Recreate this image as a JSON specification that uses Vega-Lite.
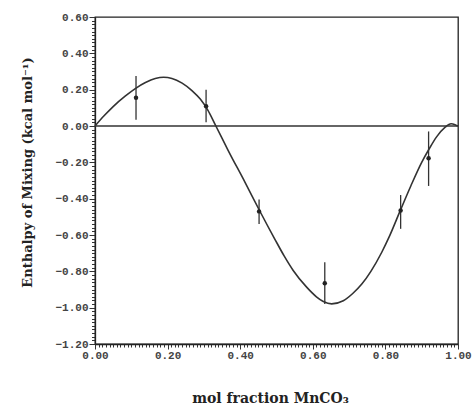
{
  "$schema": "https://vega.github.io/schema/vega-lite/v6.json",
  "width": 363,
  "height": 327,
  "autosize": {"type": "none"},
  "padding": {"left": 95, "top": 17, "right": 15, "bottom": 63},
  "background": "white",
  "config": {
    "view": {"stroke": "#222", "strokeWidth": 1.3},
    "axis": {
      "grid": false,
      "domainColor": "#222",
      "domainWidth": 1.3,
      "tickColor": "#333",
      "tickWidth": 1,
      "labelFont": "Liberation Mono",
      "labelFontWeight": "bold",
      "labelFontSize": 11,
      "labelColor": "#444",
      "labelOverlap": false,
      "labelFlush": false,
      "titleFont": "DejaVu Serif",
      "titleFontWeight": "bold",
      "titleColor": "#222"
    }
  },
  "datasets": {
    "curve": [
      {"x": 0.0, "y": 0.0},
      {"x": 0.025, "y": 0.056},
      {"x": 0.05, "y": 0.107},
      {"x": 0.083, "y": 0.164},
      {"x": 0.111, "y": 0.206},
      {"x": 0.139, "y": 0.239},
      {"x": 0.166, "y": 0.261},
      {"x": 0.189, "y": 0.268},
      {"x": 0.212, "y": 0.262},
      {"x": 0.24, "y": 0.236},
      {"x": 0.267, "y": 0.195},
      {"x": 0.29, "y": 0.148},
      {"x": 0.31, "y": 0.09},
      {"x": 0.333, "y": 0.0},
      {"x": 0.367, "y": -0.135},
      {"x": 0.413, "y": -0.309},
      {"x": 0.455, "y": -0.472},
      {"x": 0.496, "y": -0.625},
      {"x": 0.521, "y": -0.715},
      {"x": 0.546, "y": -0.795},
      {"x": 0.583, "y": -0.887},
      {"x": 0.61, "y": -0.94},
      {"x": 0.629, "y": -0.966},
      {"x": 0.652, "y": -0.979},
      {"x": 0.684, "y": -0.962},
      {"x": 0.71, "y": -0.922},
      {"x": 0.735, "y": -0.87},
      {"x": 0.76, "y": -0.8},
      {"x": 0.79, "y": -0.695},
      {"x": 0.81, "y": -0.612},
      {"x": 0.84, "y": -0.47},
      {"x": 0.87, "y": -0.33},
      {"x": 0.9, "y": -0.2},
      {"x": 0.92, "y": -0.128},
      {"x": 0.941, "y": -0.06},
      {"x": 0.964, "y": -0.008},
      {"x": 0.981, "y": 0.012},
      {"x": 0.993, "y": 0.006},
      {"x": 1.0, "y": 0.0}
    ],
    "points": [
      {"x": 0.113, "y": 0.155, "lo": 0.035, "hi": 0.275},
      {"x": 0.306, "y": 0.109, "lo": 0.02, "hi": 0.2},
      {"x": 0.452, "y": -0.47, "lo": -0.54, "hi": -0.405},
      {"x": 0.633, "y": -0.865, "lo": -0.98, "hi": -0.75},
      {"x": 0.842, "y": -0.465, "lo": -0.566, "hi": -0.38},
      {"x": 0.919, "y": -0.177, "lo": -0.33, "hi": -0.03}
    ],
    "zero": [{"y": 0}]
  },
  "encoding": {
    "x": {
      "field": "x",
      "type": "quantitative",
      "scale": {"domain": [0, 1], "nice": false, "zero": false},
      "axis": {
        "title": "mol fraction MnCO₃",
        "titleFontSize": 14,
        "tickCount": 100,
        "labelExpr": "abs(datum.value*5 - round(datum.value*5)) < 0.0001 ? format(datum.value, '.2f') : ''",
        "tickSize": {"condition": {"test": "abs(datum.value*5 - round(datum.value*5)) < 0.0001", "value": 5}, "value": 3},
        "labelPadding": 0,
        "titleX": 175,
        "titleY": 54,
        "titleBaseline": "middle",
        "titleAlign": "center"
      }
    },
    "y": {
      "field": "y",
      "type": "quantitative",
      "scale": {"domain": [-1.2, 0.6], "nice": false, "zero": false},
      "axis": {
        "title": "Enthalpy of Mixing (kcal mol⁻¹)",
        "titleFontSize": 13,
        "tickCount": 90,
        "labelExpr": "abs(datum.value*5 - round(datum.value*5)) < 0.0001 ? format(datum.value, '.2f') : ''",
        "tickSize": {"condition": {"test": "abs(datum.value*5 - round(datum.value*5)) < 0.0001", "value": 6}, "value": 3.5},
        "labelPadding": 1,
        "titleX": -68,
        "titleY": 155,
        "titleAngle": -90,
        "titleBaseline": "middle",
        "titleAlign": "center"
      }
    }
  },
  "layer": [
    {
      "data": {"name": "zero"},
      "mark": {"type": "rule", "color": "#333", "strokeWidth": 1.5},
      "encoding": {"x": null}
    },
    {
      "data": {"name": "curve"},
      "mark": {"type": "line", "color": "#333", "strokeWidth": 1.6, "interpolate": "monotone"}
    },
    {
      "data": {"name": "points"},
      "mark": {"type": "rule", "color": "#333", "strokeWidth": 1.3},
      "encoding": {
        "y": {"field": "lo", "type": "quantitative"},
        "y2": {"field": "hi"}
      }
    },
    {
      "data": {"name": "points"},
      "mark": {"type": "point", "filled": true, "color": "#222", "size": 20, "opacity": 1}
    }
  ]
}
